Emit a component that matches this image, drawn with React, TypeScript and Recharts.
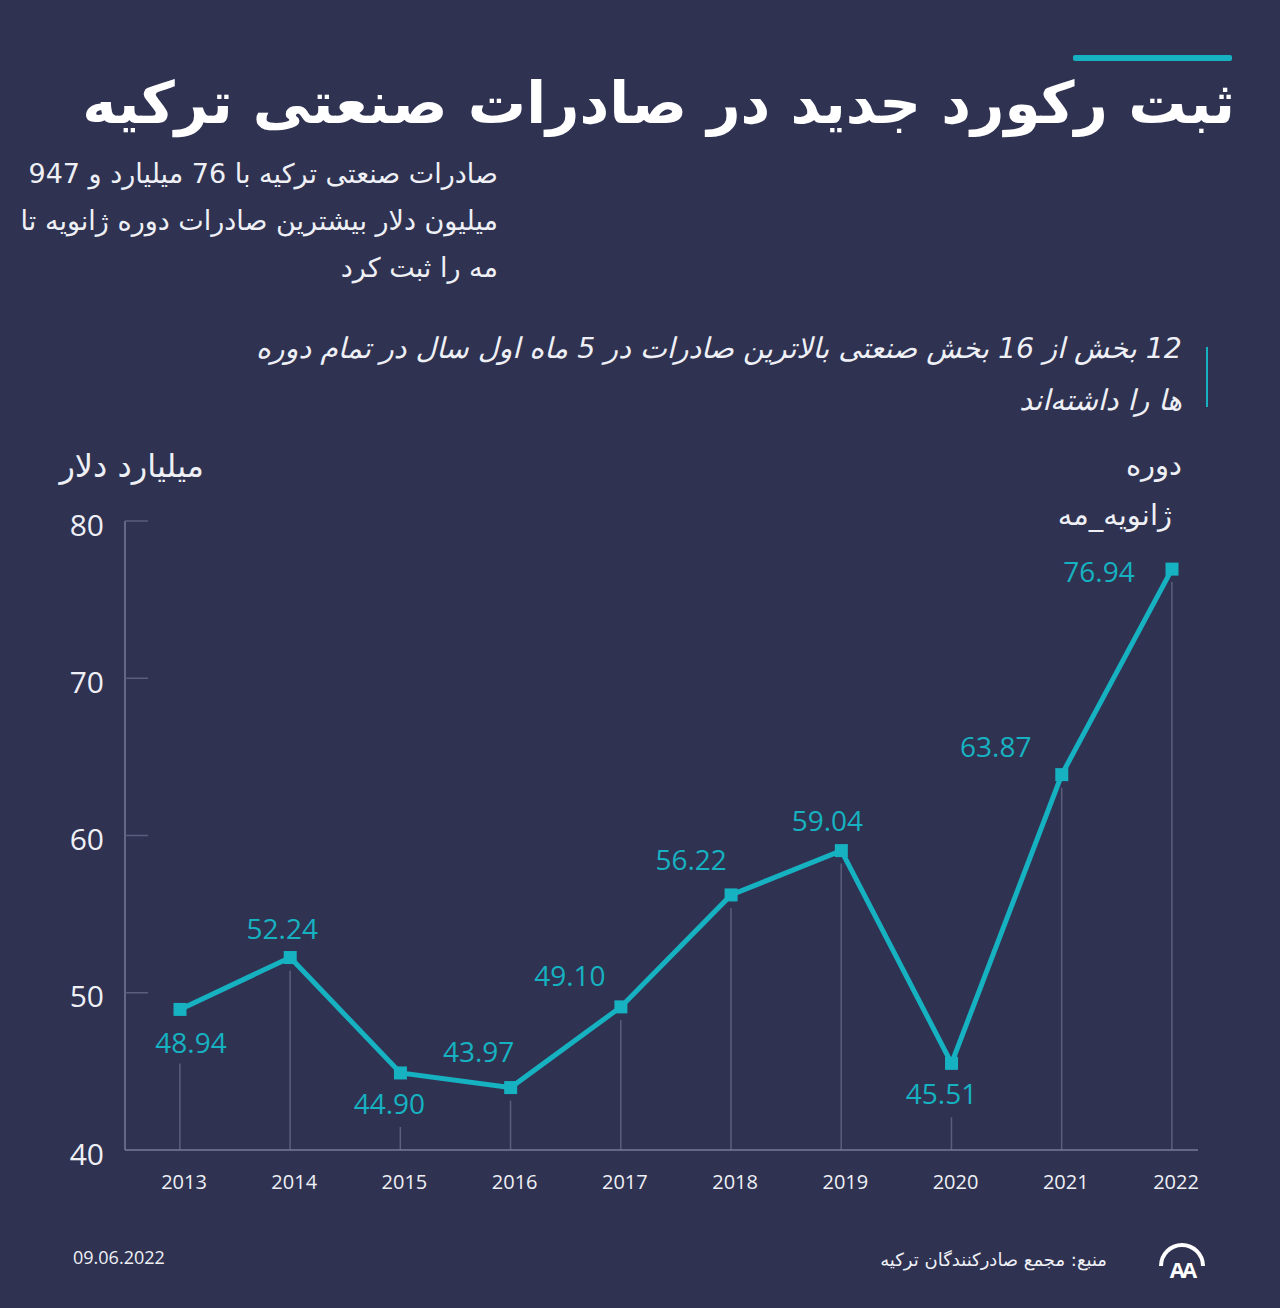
import React from 'react';
import { ComposedChart, Line, Bar, XAxis, YAxis, LabelList } from 'recharts';

const years = ['2013', '2014', '2015', '2016', '2017', '2018', '2019', '2020', '2021', '2022'];
const exportsBn = [48.94, 52.24, 44.9, 43.97, 49.1, 56.22, 59.04, 45.51, 63.87, 76.94];
const yTicks = [40, 50, 60, 70, 80];

const title = 'ثبت رکورد جدید در صادرات صنعتی ترکیه';
const introLines = [
  'صادرات صنعتی ترکیه با 76 میلیارد و 947',
  'میلیون دلار بیشترین صادرات دوره ژانویه تا',
  'مه را ثبت کرد',
];
const noteLines = [
  '12 بخش از 16 بخش صنعتی بالاترین صادرات در 5 ماه اول سال در تمام دوره',
  'ها را داشته‌اند',
];
const unitLabel = 'میلیارد دلار';
const periodLines = ['دوره', 'ژانویه_مه'];
const sourceText = 'منبع: مجمع صادرکنندگان ترکیه';
const dateText = '09.06.2022';

// label placement per point (dx, dy from the marker)
const labelOffsets: [number, number][] = [
  [11, 33], [-8, -30], [-11, 30], [-32, -37], [-51, -32],
  [-40, -36], [-14, -31], [-10, 30], [-66, -29], [-73, 2],
];

const BG = '#2f3251';
const TEAL = '#16b2c1';
const TEXT = '#eef0f6';
const GRID = '#5b5f7c';
const AXIS = '#777b96';
const PERSIAN = '"DejaVu Sans", "Noto Sans", sans-serif';
const LATIN = '"Open Sans", "Noto Sans", sans-serif';

const data = years.map((year, i) => ({ year, value: exportsBn[i] }));

const YTick = (props: any) => {
  const { x, y, payload } = props;
  return (
    <g>
      {payload.value !== 40 && <line x1={x} x2={x + 23} y1={y} y2={y} stroke={GRID} strokeWidth={1.5} />}
      <text x={x - 21} y={y + 3} textAnchor="end" dominantBaseline="central" fill={TEXT} fontSize={30} fontFamily={LATIN}>
        {payload.value}
      </text>
    </g>
  );
};

const XTick = (props: any) => {
  const { x, y, payload } = props;
  return (
    <text x={x + 4} y={y + 31} textAnchor="middle" dominantBaseline="central" fill={TEXT} fontSize={20} fontFamily={LATIN}>
      {payload.value}
    </text>
  );
};

const DropLine = (props: any) => {
  const { x, y, width, height, index } = props;
  const below = labelOffsets[index][1] > 10;
  const top = y + (below ? 54 : 13);
  const cx = x + width / 2;
  if (top >= y + height) return null;
  return <line x1={cx} x2={cx} y1={top} y2={y + height} stroke={GRID} strokeWidth={1.5} />;
};

const SquareDot = (props: any) => {
  const { cx, cy, index } = props;
  return <rect key={index} x={cx - 6.5} y={cy - 6.5} width={13} height={13} fill={TEAL} />;
};

const ValueLabel = (props: any) => {
  const { x, y, value, index } = props;
  const [dx, dy] = labelOffsets[index];
  return (
    <text x={x + dx} y={y + dy} textAnchor="middle" dominantBaseline="central" fill={TEAL} fontSize={28} fontFamily={LATIN}>
      {Number(value).toFixed(2)}
    </text>
  );
};

const rtl = (right: number, top: number, size: number, extra: React.CSSProperties = {}): React.CSSProperties => ({
  position: 'absolute',
  right: 1280 - right,
  top,
  direction: 'rtl',
  textAlign: 'right',
  whiteSpace: 'nowrap',
  fontFamily: PERSIAN,
  fontSize: size,
  color: TEXT,
  lineHeight: 1,
  ...extra,
});

export default function App() {
  return (
    <div style={{ position: 'absolute', left: 0, top: 0, width: 1280, height: 1308, background: BG, overflow: 'hidden' }}>
      <div style={{ position: 'absolute', left: 1073, top: 55, width: 159, height: 6, background: TEAL, borderRadius: 2 }} />
      <div style={rtl(1235, 74, 58, { fontWeight: 'bold', color: '#ffffff' })}>{title}</div>

      {introLines.map((line, i) => (
        <div key={i} style={rtl(498, 160 + i * 47, 27)}>{line}</div>
      ))}

      <div style={{ position: 'absolute', left: 1206, top: 347, width: 2, height: 60, background: TEAL }} />
      {noteLines.map((line, i) => (
        <div key={i} style={rtl(1182, 335 + i * 52, 28.5, { fontStyle: 'italic' })}>{line}</div>
      ))}

      <div style={rtl(204, 450, 32)}>{unitLabel}</div>
      <div style={rtl(1182, 451, 29)}>{periodLines[0]}</div>
      <div style={rtl(1172, 501, 29)}>{periodLines[1]}</div>

      <div style={{ position: 'absolute' }}>
        <ComposedChart
          width={1280}
          height={1308}
          data={data}
          margin={{ top: 521, right: 82, bottom: 118, left: 45 }}
        >
          <XAxis
            dataKey="year"
            scale="point"
            height={40}
            padding={{ left: 55, right: 26 }}
            axisLine={{ stroke: AXIS, strokeWidth: 1.5 }}
            tickLine={false}
            tickSize={0}
            tickMargin={0}
            tick={<XTick />}
            interval={0}
          />
          <YAxis
            width={80}
            domain={[40, 80]}
            ticks={yTicks}
            axisLine={{ stroke: AXIS, strokeWidth: 1.5 }}
            tickLine={false}
            tickSize={0}
            tickMargin={0}
            tick={<YTick />}
          />
          <Bar dataKey="value" barSize={2} fill="none" shape={<DropLine />} isAnimationActive={false} />
          <Line
            dataKey="value"
            stroke={TEAL}
            strokeWidth={5}
            dot={<SquareDot />}
            activeDot={false}
            isAnimationActive={false}
          >
            <LabelList dataKey="value" content={<ValueLabel />} />
          </Line>
        </ComposedChart>
      </div>

      <div style={{ position: 'absolute', left: 73, top: 1248, fontFamily: LATIN, fontSize: 18, color: TEXT, lineHeight: 1 }}>
        {dateText}
      </div>
      <div style={rtl(1107, 1251, 18)}>{sourceText}</div>
      <svg style={{ position: 'absolute', left: 1150, top: 1236 }} width={64} height={50}>
        <path d="M11 30 A21 21 0 0 1 53 30" fill="none" stroke="#ffffff" strokeWidth={4} />
        <text x={32} y={42} textAnchor="middle" fill="#ffffff" fontSize={22} fontWeight="bold" fontFamily={LATIN} letterSpacing={-3}>
          AA
        </text>
      </svg>
    </div>
  );
}
